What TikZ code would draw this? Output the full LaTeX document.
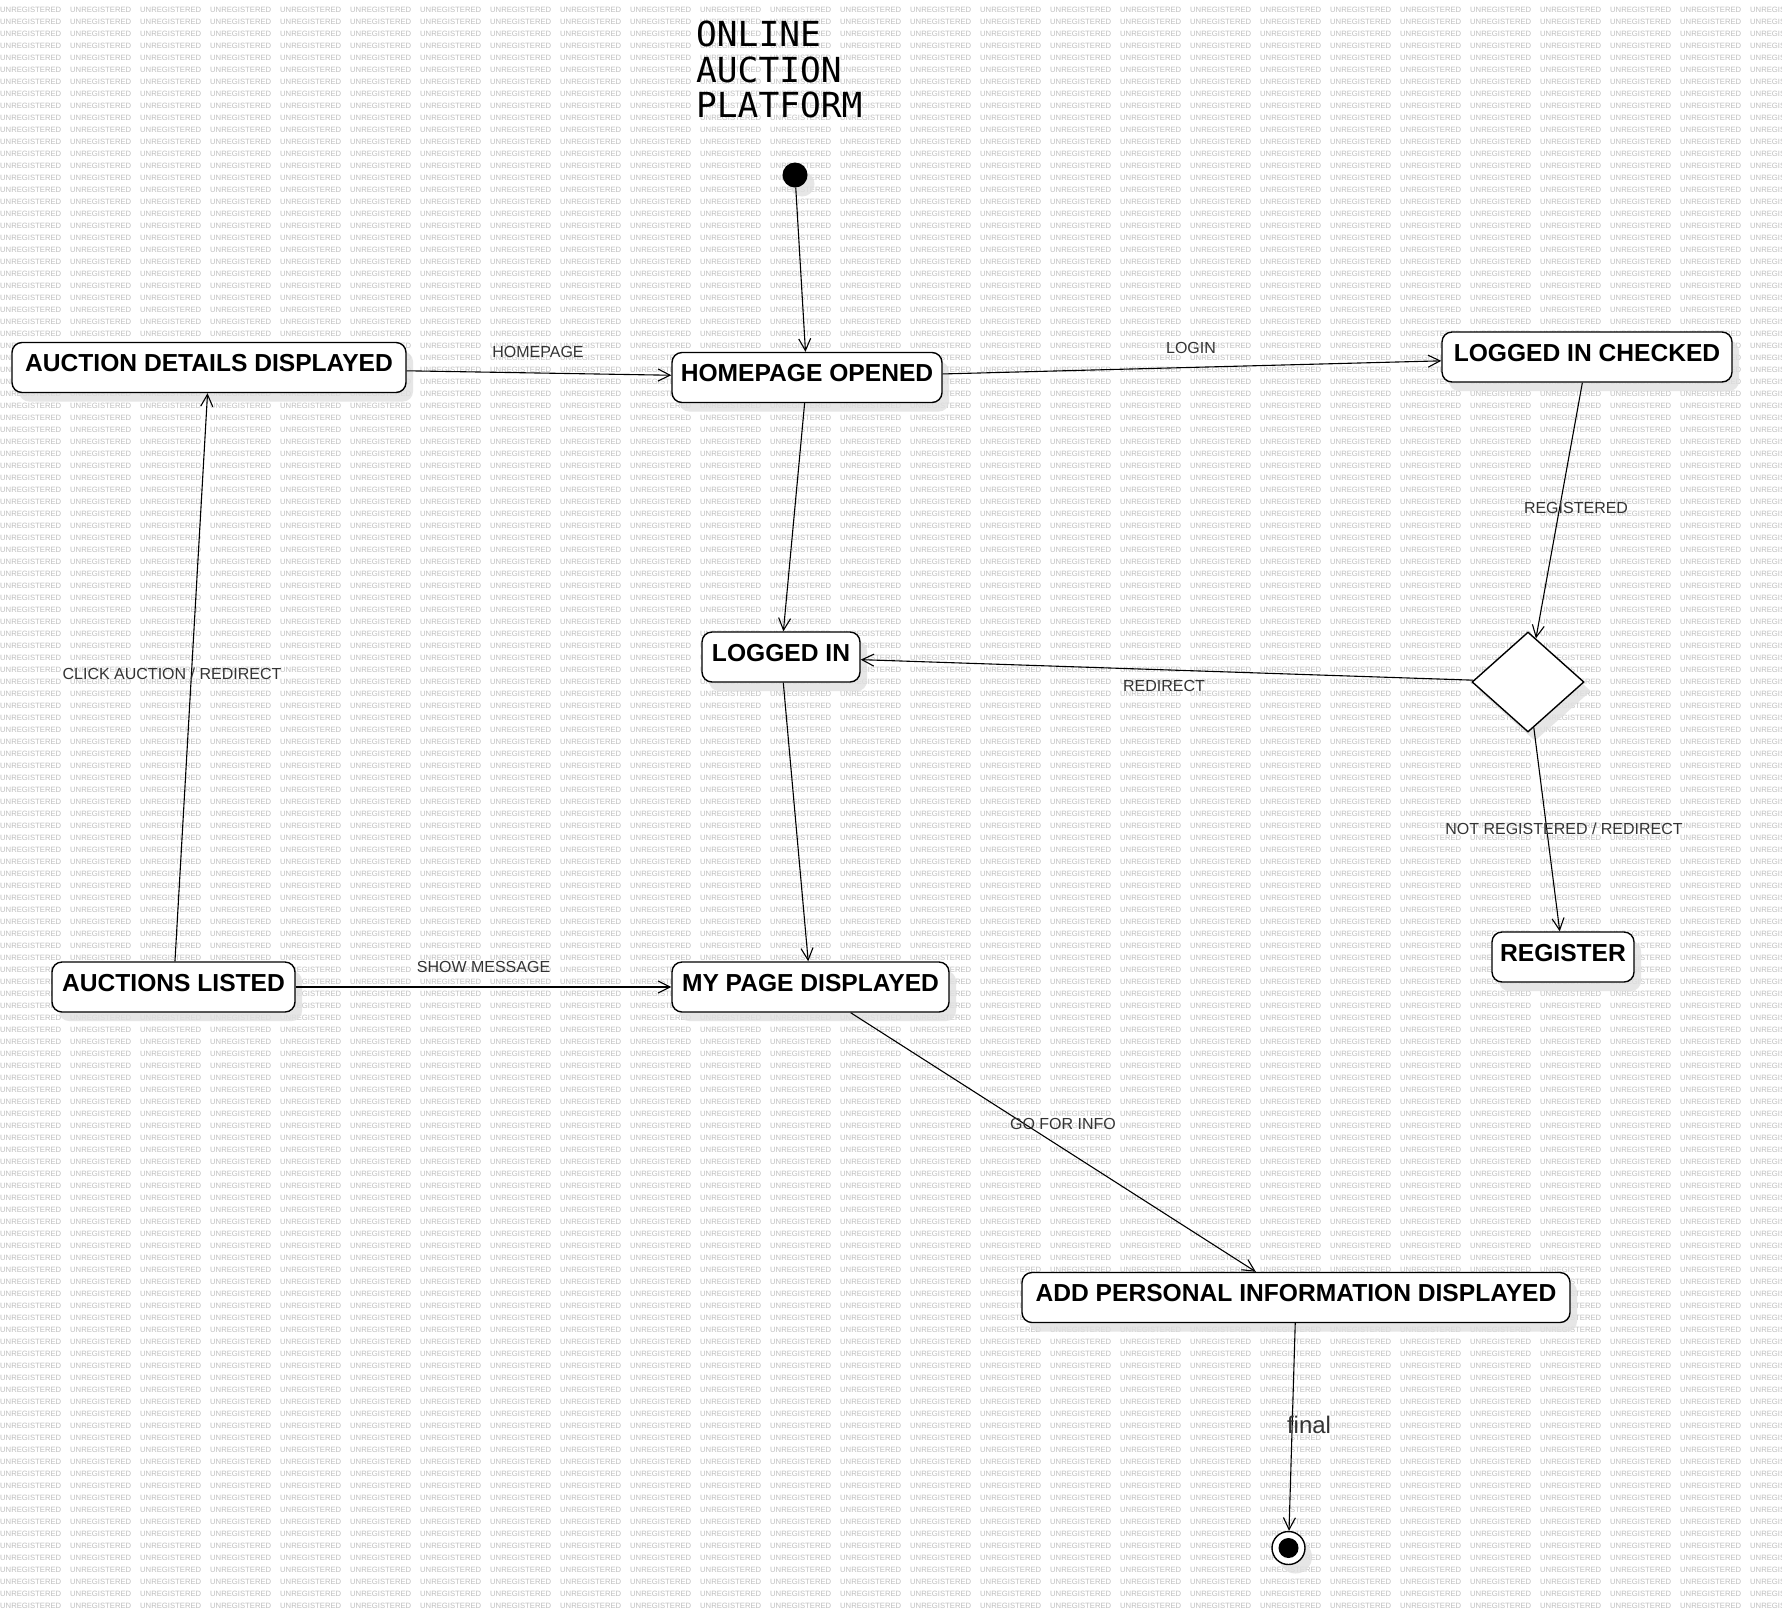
\documentclass[tikz,border=0pt]{standalone}
\usepackage{fontspec}
\setmainfont{Liberation Sans}
\newfontfamily\titlefont{DejaVu Sans Mono}
\usetikzlibrary{arrows.meta,shapes.geometric,shadows}

\newsavebox\wmword
\newsavebox\wmline

\tikzset{
  softshadow/.style={drop shadow={fill=black!12, opacity=0.8, shadow xshift=7pt, shadow yshift=-9pt}},
  state/.style={draw, line width=1.4pt, rounded corners=10pt, fill=white,
    font=\fontsize{24.6}{28}\selectfont\bfseries,
    text height=29pt, text depth=21pt, inner ysep=0pt, inner xsep=0pt,
    minimum height=50pt, softshadow},
  choice/.style={diamond, draw, line width=1.4pt, fill=white, inner sep=0pt,
    minimum width=112pt, minimum height=100pt, softshadow},
  trans/.style={line width=1.1pt, -{Straight Barb[length=12pt,width=12pt]}},
  lbl/.style={font=\fontsize{16}{19}\selectfont, text=black!80, inner sep=1pt},
  titletext/.style={anchor=base west, inner sep=0pt, font=\titlefont\fontsize{34.5}{36}\selectfont},
}

\begin{document}
% one row of the tiled background text
\sbox\wmword{\makebox[70pt][l]{\color{black!25}\fontsize{7.68}{9}\selectfont UNREGISTERED}}
\sbox\wmline{\def\w{\copy\wmword}\w\w\w\w\w\w\w\w\w\w\w\w\w\w\w\w\w\w\w\w\w\w\w\w\w\w}
\begin{tikzpicture}[x=1pt, y=-1pt]
  \fill[white] (0,0) rectangle (1782,1615);
  \useasboundingbox (0,0) rectangle (1782,1615);

  % tiled background text
  \foreach \r in {1,...,134}
    \node[anchor=base west, inner sep=0pt] (wm\r) at (0,12*\r) {\usebox\wmline};

  % title
  \node[titletext] (title1) at (696,46) {ONLINE};
  \node[titletext] (title2) at (696,82) {AUCTION};
  \node[titletext] (title3) at (696,117) {PLATFORM};

  % pseudo states
  \node[circle, fill=black, minimum size=25pt, inner sep=0pt, softshadow] (start) at (795,175) {};
  \node[circle, draw, line width=1.4pt, fill=white, minimum size=33pt, inner sep=0pt, softshadow] (final) at (1288.5,1548) {};
  \node[circle, fill=black, minimum size=20pt, inner sep=0pt] (finaldot) at (final.center) {};

  % states
  \node[state, minimum width=394pt] (adet)   at (209,367.5)  {AUCTION DETAILS DISPLAYED};
  \node[state, minimum width=270pt] (home)   at (807,377.5)  {HOMEPAGE OPENED};
  \node[state, minimum width=290pt] (lic)    at (1587,357)   {LOGGED IN CHECKED};
  \node[state, minimum width=158pt] (lin)    at (781,657)    {LOGGED IN};
  \node[choice] (dec) at (1528,682) {};
  \node[state, minimum width=243pt] (alist)  at (173.5,987)  {AUCTIONS LISTED};
  \node[state, minimum width=277pt] (mypage) at (810.5,987)  {MY PAGE DISPLAYED};
  \node[state, minimum width=142pt] (reg)    at (1563,957)   {REGISTER};
  \node[state, minimum width=548pt] (addp)   at (1296,1297.5) {ADD PERSONAL INFORMATION DISPLAYED};

  % transitions
  \draw[trans] (start) -- (home);
  \draw[trans] (adet) -- (home);
  \draw[trans] (home) -- (lic);
  \draw[trans] (home) -- (lin);
  \draw[trans] (lic) -- (dec);
  \draw[trans] (dec) -- (lin);
  \draw[trans] (dec) -- (reg);
  \draw[trans] (lin) -- (mypage);
  \draw[trans] (alist) -- (adet);
  \draw[trans] (alist) -- (mypage);
  \draw[trans] (mypage) -- (addp);
  \draw[trans] (addp) -- (final);

  % transition labels
  \node[lbl] (lhome)   at (538,352)    {HOMEPAGE};
  \node[lbl] (llogin)  at (1191,348)   {LOGIN};
  \node[lbl] (lreg)    at (1576,508)   {REGISTERED};
  \node[lbl] (lredir)  at (1164,686)   {REDIRECT};
  \node[lbl] (lnotreg) at (1564,828.5) {NOT REGISTERED / REDIRECT};
  \node[lbl] (lclick)  at (172,674)    {CLICK AUCTION / REDIRECT};
  \node[lbl] (lshow)   at (483.5,967)  {SHOW MESSAGE};
  \node[lbl] (lgo)     at (1063,1124)  {GO FOR INFO};
  \node[lbl, font=\fontsize{24}{28}\selectfont] (lfinal) at (1309,1425) {final};
\end{tikzpicture}
\end{document}
